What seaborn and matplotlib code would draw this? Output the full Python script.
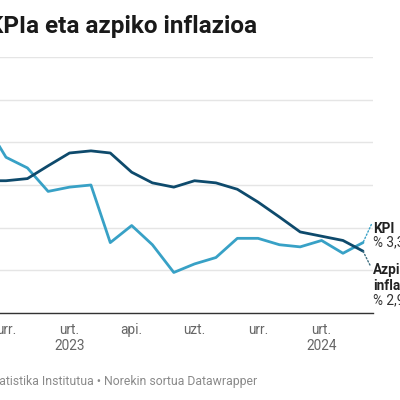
import matplotlib
matplotlib.use("Agg")
import matplotlib.pyplot as plt
import pandas as pd
import seaborn as sns

# monthly data, Sep 2022 - Mar 2024
months = pd.date_range("2022-09-01", "2024-03-01", freq="MS")
kpi = [8.9, 7.3, 6.8, 5.7, 5.9, 6.0, 3.3, 4.1, 3.2, 1.9, 2.3, 2.6,
       3.5, 3.5, 3.2, 3.1, 3.4, 2.8, 3.3]
azpiko = [6.2, 6.2, 6.3, 6.9, 7.5, 7.6, 7.5, 6.6, 6.1, 5.9, 6.2, 6.1,
          5.8, 5.2, 4.5, 3.8, 3.6, 3.4, 2.9]
series_names = ["KPI", "Azpiko inflazioa"]
tick_dates = pd.to_datetime(["2022-10-01", "2023-01-01", "2023-04-01",
                             "2023-07-01", "2023-10-01", "2024-01-01"])
tick_labels = ["urr.", "urt.\n2023", "api.", "uzt.", "urr.", "urt.\n2024"]
y_ticks = [0, 2, 4, 6, 8, 10, 12]

DARK = "#0e4a6c"
LIGHT = "#38a1c6"

df = pd.concat([
    pd.DataFrame({"data": months, "balioa": kpi, "serie": series_names[0]}),
    pd.DataFrame({"data": months, "balioa": azpiko, "serie": series_names[1]}),
])

sns.set_theme(style="white")
plt.rcParams["font.family"] = ["Roboto", "DejaVu Sans"]

fig = plt.figure(figsize=(4, 4), dpi=100)
# the reference is a crop: the axes run past the left edge of the figure
ax = fig.add_axes([-0.1, 0.2175, 1.0325, 0.64])

sns.lineplot(data=df, x="data", y="balioa", hue="serie",
             palette={series_names[0]: LIGHT, series_names[1]: DARK},
             linewidth=2.0, legend=False, ax=ax)

px_per_day = 357 / 517
ax.set_xlim(pd.Timestamp("2022-10-01") - pd.Timedelta(days=46 / px_per_day),
            pd.Timestamp("2024-03-01") + pd.Timedelta(days=10 / px_per_day))
ax.set_ylim(0, 12)
ax.set_yticks(y_ticks)
ax.set_yticklabels([])
ax.tick_params(axis="y", length=0)
ax.grid(axis="y", color="#e5e5e5", linewidth=1)
ax.set_xticks(tick_dates)
ax.set_xticklabels(tick_labels, color="#666666", fontsize=9.8, linespacing=1.25)
ax.tick_params(axis="x", length=0, pad=7)
ax.set_xlabel("")
ax.set_ylabel("")
for side in ["top", "right", "left"]:
    ax.spines[side].set_visible(False)
ax.spines["bottom"].set_color("#333333")
ax.spines["bottom"].set_linewidth(1)

# end labels with dotted leaders
last = months[-1]
ax.annotate("", xy=(last, kpi[-1]), xytext=(6, 13), textcoords="offset points",
            arrowprops=dict(arrowstyle="-", linestyle=(0, (1, 1.5)), color=LIGHT, lw=1,
                            shrinkA=0, shrinkB=0), annotation_clip=False)
ax.annotate("", xy=(last, azpiko[-1]), xytext=(5, -10), textcoords="offset points",
            arrowprops=dict(arrowstyle="-", linestyle=(0, (1, 1.5)), color="#3f6f80", lw=1,
                            shrinkA=0, shrinkB=0), annotation_clip=False)

label_kw = dict(textcoords="offset points", ha="left", va="baseline",
                fontsize=9.8, annotation_clip=False)
ax.annotate("KPI", xy=(last, kpi[-1]), xytext=(7.5, 7), fontweight="bold",
            color="#222222", **label_kw)
ax.annotate("% " + f"{kpi[-1]:.1f}".replace(".", ","), xy=(last, kpi[-1]),
            xytext=(7.5, -3), color="#333333", **label_kw)
ax.annotate("Azpiko", xy=(last, azpiko[-1]), xytext=(7.5, -16.5), fontweight="bold",
            color="#222222", **label_kw)
ax.annotate("inflazioa", xy=(last, azpiko[-1]), xytext=(7.5, -28), fontweight="bold",
            color="#222222", **label_kw)
ax.annotate("% " + f"{azpiko[-1]:.1f}".replace(".", ","), xy=(last, azpiko[-1]),
            xytext=(7.5, -38.5), color="#333333", **label_kw)

fig.text(257 / 400, 1 - 33 / 400, "KPIa eta azpiko inflazioa", ha="right", va="baseline",
         fontsize=17.5, fontweight="bold", color="#1a1a1a")
fig.text(257 / 400, 1 - 385 / 400,
         "Iturria: Euskal Estatistika Institutua • Norekin sortua Datawrapper",
         ha="right", va="baseline", fontsize=8.8, color="#8a8a8a")

fig.savefig("out.png", dpi=100, facecolor="white")
